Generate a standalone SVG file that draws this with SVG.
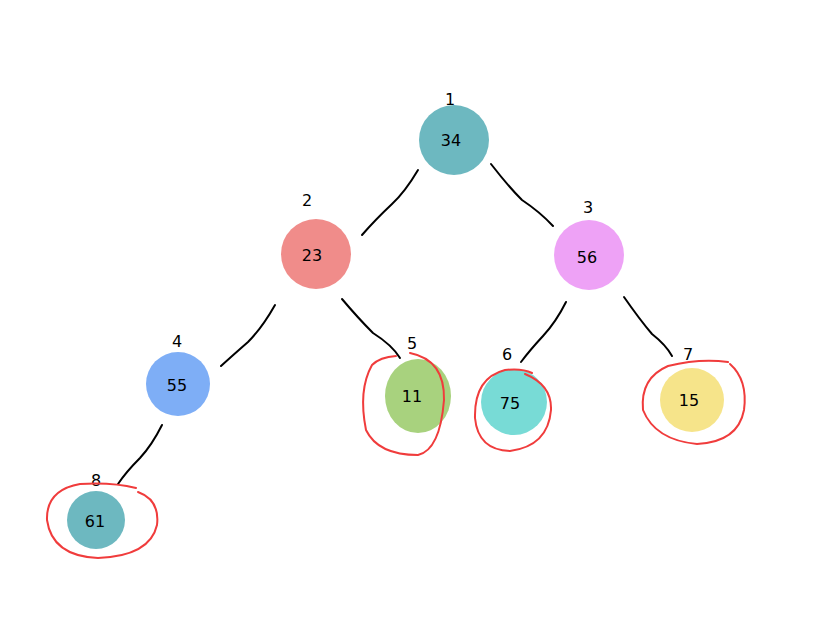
<svg xmlns="http://www.w3.org/2000/svg" width="823" height="637" viewBox="0 0 823 637">
<style>
.n text{font-family:"DejaVu Sans",sans-serif;font-size:16px;text-anchor:middle;dominant-baseline:central;fill:#000}
.lbl{font-family:"DejaVu Sans",sans-serif;font-size:19px;text-anchor:middle;fill:#000}
.e{fill:none;stroke:#000;stroke-width:2;stroke-linecap:round}
.r{fill:none;stroke:#f03c3c;stroke-width:2;stroke-linecap:round}
</style>
<rect width="823" height="637" fill="#fff"/>
<g id="connectors">
<path class="e" d="M418,170 Q405,192 392,204 Q375,220 362,235"/>
<path class="e" d="M491,164 Q508,186 522,200 Q540,212 553,226"/>
<path class="e" d="M275,305 Q262,328 248,342 Q232,356 221,366"/>
<path class="e" d="M342,299 Q358,318 373,333 Q392,345 400,358"/>
<path class="e" d="M566,302 Q556,322 543,336 Q530,350 521,362"/>
<path class="e" d="M624,297 Q640,320 652,334 Q666,345 672,356"/>
<path class="e" d="M162,425 Q152,445 140,458 Q126,472 118,484"/>
</g>
<g id="n1" class="n"><circle cx="454" cy="140" r="35" fill="#6db8c0"/><text x="451" y="140">34</text><text class="lbl" x="450" y="99">1</text></g>
<g id="n2" class="n"><circle cx="316" cy="254" r="35" fill="#f08c8a"/><text x="312" y="255">23</text><text class="lbl" x="307" y="200">2</text></g>
<g id="n3" class="n"><circle cx="589" cy="255" r="35" fill="#eea2f6"/><text x="587" y="257">56</text><text class="lbl" x="588" y="207">3</text></g>
<g id="n4" class="n"><circle cx="178" cy="384" r="32" fill="#7eaef6"/><text x="177" y="385">55</text><text class="lbl" x="177" y="341">4</text></g>
<g id="n5" class="n"><ellipse cx="418" cy="396" rx="33" ry="37" fill="#a8d27e"/><text x="412" y="396">11</text><text class="lbl" x="412" y="343">5</text></g>
<g id="n6" class="n"><circle cx="514" cy="402" r="33" fill="#78dbd6"/><text x="510" y="403">75</text><text class="lbl" x="507" y="354">6</text></g>
<g id="n7" class="n"><circle cx="692" cy="400" r="32" fill="#f6e48a"/><text x="689" y="400">15</text><text class="lbl" x="688" y="354">7</text></g>
<g id="n8" class="n"><circle cx="96" cy="520" r="29" fill="#6db8c0"/><text x="95" y="521">61</text><text class="lbl" x="96" y="480">8</text></g>
<g id="marks">
<path class="r" d="M410,353 Q445,360 444,400 Q440,450 418,455 Q378,455 366,430 Q358,390 372,365 Q380,357 396,356"/>
<path class="r" d="M525,374 Q552,385 551,410 Q548,446 510,451 Q478,450 475,418 Q474,378 505,370 Q522,368 532,373"/>
<path class="r" d="M730,364 Q748,380 744,410 Q738,442 697,444 Q655,440 643,410 Q640,378 668,366 Q700,358 728,362"/>
<path class="r" d="M138,492 Q160,500 157,525 Q150,556 98,558 Q52,556 47,520 Q46,490 80,484 Q112,482 136,488"/>
</g>
</svg>
